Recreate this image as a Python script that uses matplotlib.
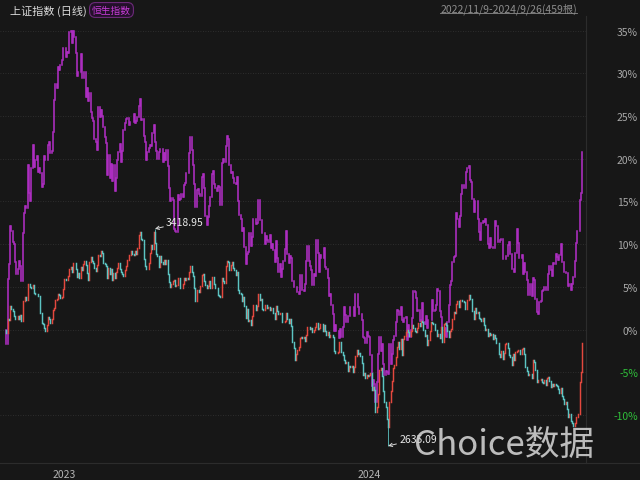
import numpy as np
import matplotlib.pyplot as plt
from matplotlib.lines import Line2D

plt.rcParams['font.family'] = ['Noto Sans CJK SC', 'DejaVu Sans']

# 上证指数, daily close in % vs first bar (2022/11/9 .. 2024/9/26), one line per month
sh_2022 = [0.0, -0.4, 1.3, 1.1, 2.8, 2.4, 2.2, 1.6, 1.2, 1.3, 1.6, 1.3, 1.7, 1.0, 3.3, 3.4,
           3.8, 3.5, 5.3, 5.4, 5.0, 4.9, 5.2, 4.3, 4.2, 4.2, 3.9, 3.9, 1.9, 0.8, 0.7, 0.2, -0.1, 0.6, 1.5, 1.3, 0.8, 1.3]
sh_2023 = [2.3, 2.5, 3.5, 3.6, 4.2, 4.0, 3.7, 3.8, 4.8, 5.9, 5.8, 5.8, 6.3, 7.1, 7.3, 6.8,
           7.8, 7.8, 7.1, 6.2, 6.6, 6.0, 7.3, 7.0, 7.7, 8.0, 7.6, 6.6, 5.8, 7.9, 8.5, 8.0, 7.8, 7.2, 6.9, 7.6,
           8.7, 8.6, 9.2, 9.0, 7.8, 7.7, 7.5, 6.0, 7.2, 6.5, 7.1, 5.8, 6.6, 6.1, 6.8, 7.2, 7.8, 7.1, 6.7, 6.5, 6.3, 7.0, 7.4,
           8.1, 8.7, 8.7, 9.2, 8.8, 8.7, 9.2, 8.9, 9.5, 11.1, 11.4, 10.6, 10.5, 8.3, 7.4, 7.1, 7.1, 7.8, 9.0,
           9.9, 9.4, 11.4, 10.1, 8.9, 8.6, 7.3, 8.6, 7.9, 7.7, 8.2, 7.7, 8.2, 6.5, 5.6, 5.0, 5.4, 5.7, 5.8, 5.1,
           5.2, 6.0, 6.0, 4.9, 4.9, 5.4, 6.0, 5.8, 6.1, 5.9, 6.7, 7.4, 6.8, 6.3, 4.9, 3.4, 4.6, 4.6, 4.4, 5.1,
           6.4, 6.5, 5.7, 5.2, 4.9, 5.1, 5.7, 4.9, 6.2, 6.2, 5.3, 4.9, 4.9, 4.0, 3.9, 3.8, 6.0, 5.7, 5.5, 7.4, 8.0,
           7.9, 7.0, 7.6, 7.9, 7.2, 7.0, 6.4, 6.8, 4.6, 4.3, 4.2, 3.3, 3.8, 2.8, 1.4, 2.4, 1.0, 1.1, 0.5, 1.6, 2.9, 2.9, 2.3,
           2.8, 4.2, 3.5, 3.6, 2.4, 2.3, 2.9, 2.9, 2.5, 2.6, 2.3, 2.5, 2.5, 2.0, 1.2, 2.8, 2.2, 1.8, 1.9, 2.0,
           0.9, 0.9, 1.0, 1.9, 1.3, 0.8, 1.2, 0.4, -1.4, -2.1, -3.6, -2.8, -2.4, -2.0, -1.0, -0.9, -1.0,
           -0.8, -1.3, -0.6, 0.3, 0.3, 0.1, 0.2, -0.3, 0.0, 0.3, 0.8, 0.1, 0.2, 0.7, 0.7, -0.2, 0.5, -0.2, -0.6, -0.3, -0.9, -0.6,
           -0.6, -0.9, -2.5, -2.7, -2.7, -2.6, -1.5, -1.5, -2.6, -3.0, -3.5, -3.9, -3.8, -4.8, -4.3, -4.4, -4.2, -4.9, -4.4, -3.1, -2.4]
sh_2024 = [-2.8, -2.7, -3.1, -3.9, -5.3, -5.1, -5.6, -5.3, -5.4, -5.3, -5.1, -7.1, -6.7, -7.1, -9.6, -9.1, -7.5, -4.7, -4.5, -5.4, -7.2, -8.5,
           -9.1, -10.4, -11.4, -8.5, -7.2, -6.0, -4.5, -4.1, -3.2, -2.0, -1.4, -2.3, -1.1, -3.0, -1.1,
           -0.7, -0.3, 0.0, -0.3, -0.7, -0.1, 0.6, 0.2, -0.1, -0.3, 0.2, 0.8, 0.4, 1.0, 0.9, 0.0, -0.7, -0.6, -1.8, -1.2, -0.2,
           0.9, 0.8, 0.7, 0.0, 0.0, -0.7, -0.5, -1.0, 0.3, -1.4, 0.7, 0.8, 0.5, -0.1, -0.9, -0.1, 0.1, 1.3, 2.1, 1.9,
           3.0, 3.3, 2.6, 3.5, 3.5, 3.3, 3.2, 2.4, 2.4, 3.5, 4.0, 3.6, 3.6, 2.2, 1.3, 2.5, 2.0, 2.1, 1.4, 1.3,
           1.0, 1.4, 0.6, 0.0, 0.1, -0.7, -0.4, -0.6, -0.5, -1.1, -0.6, -1.0, -1.6, -1.6, -2.8, -3.2, -2.5, -3.4, -2.7,
           -1.7, -1.6, -2.2, -3.0, -3.2, -4.1, -2.9, -3.6, -2.6, -2.5, -2.4, -2.4, -2.8, -2.3, -2.2, -2.8, -4.4, -4.8, -5.3, -5.2, -5.2, -5.6, -3.6,
           -3.8, -4.7, -6.1, -5.9, -5.9, -5.8, -6.1, -6.2, -5.9, -6.5, -5.6, -5.5, -6.0, -6.7, -6.3, -6.6, -6.3, -6.5, -6.6, -6.9, -7.4, -6.8,
           -7.8, -8.1, -8.7, -8.5, -9.3, -10.2, -9.9, -10.7, -10.9, -11.3, -10.9, -10.2, -10.2, -9.9, -6.1, -5.0, -1.6]

# 恒生指数 on the same trading days, % vs first bar
hs_2022 = [0.0, -1.7, 5.9, 7.7, 12.1, 11.6, 10.3, 10.0, 7.9, 6.5, 7.1, 8.0, 7.4, 5.7, 11.3, 13.7,
           14.5, 14.2, 19.3, 16.0, 15.0, 18.9, 21.6, 19.0, 19.8, 20.3, 18.4, 18.9, 18.3, 16.7, 17.1, 20.3, 19.8, 19.8, 21.6, 21.9, 20.7, 20.9]
hs_2023 = [23.1, 26.9, 28.7, 28.3, 30.7, 30.4, 31.0, 31.5, 32.9, 32.9, 31.9, 32.5, 32.4, 34.8, 34.9, 33.5,
           34.9, 34.2, 32.4, 29.7, 30.2, 30.1, 32.2, 29.5, 29.4, 30.2, 27.2, 28.3, 26.7, 27.7, 25.5, 24.8, 24.4, 22.3, 21.9, 21.0,
           26.0, 24.9, 25.7, 25.0, 23.7, 22.6, 21.8, 18.1, 20.4, 17.7, 19.4, 17.4, 19.3, 16.2, 17.7, 19.8, 20.8, 21.7, 19.6, 20.9, 23.4, 24.2, 24.7,
           24.8, 23.9, 24.3, 24.3, 24.3, 25.2, 24.2, 24.4, 24.9, 26.2, 27.0, 24.5, 24.7, 22.7, 22.0, 19.9, 20.8, 21.3, 21.6,
           21.5, 23.0, 23.9, 22.0, 20.9, 20.0, 20.8, 21.1, 21.1, 19.6, 20.7, 19.8, 21.0, 19.1, 16.6, 15.0, 15.4, 15.2, 11.8, 11.5,
           11.4, 15.8, 15.2, 15.3, 15.9, 15.5, 16.9, 17.2, 18.3, 18.3, 20.7, 22.5, 21.0, 19.3, 17.0, 14.3, 16.4, 16.5, 15.9, 15.6,
           17.9, 18.2, 16.6, 13.3, 12.3, 13.2, 14.5, 15.5, 18.2, 18.6, 17.0, 16.6, 16.2, 16.8, 16.7, 14.6, 19.5, 20.0, 19.6, 21.5, 22.7,
           22.3, 19.3, 18.3, 18.4, 17.8, 17.2, 17.0, 17.9, 15.0, 13.4, 12.9, 11.5, 11.9, 9.7, 7.7, 8.8, 9.1, 11.3, 9.8, 10.8, 13.0, 13.0, 12.4,
           12.5, 15.2, 12.8, 12.8, 11.3, 11.3, 10.0, 11.0, 10.5, 10.3, 11.1, 9.6, 10.0, 9.3, 7.9, 10.4, 8.4, 6.8, 7.7, 6.2,
           7.1, 8.0, 9.4, 11.5, 8.9, 7.8, 8.6, 8.4, 5.7, 5.0, 5.0, 5.0, 4.4, 4.2, 6.4, 6.4, 4.6,
           4.5, 5.3, 8.0, 9.8, 8.0, 7.4, 7.0, 5.2, 6.5, 6.3, 10.5, 9.0, 6.7, 8.7, 8.4, 8.4, 9.5, 7.3, 7.1, 6.1, 3.9, 4.2,
           2.9, 1.8, -0.2, 0.6, -0.1, -0.1, -1.0, 0.1, -0.8, 0.3, 2.7, 1.7, 0.9, 1.6, 1.6, 2.7, 2.7, 2.7, 1.6, 4.2, 4.2]
hs_2024 = [2.6, 1.8, 1.8, 1.1, -0.8, -1.0, -1.6, -0.3, -0.7, -0.9, -3.0, -6.6, -5.9, -6.4, -8.5, -6.1, -2.8, -0.9, -2.5, -1.7, -4.0, -5.3,
           -4.8, -5.0, -5.2, -1.7, -4.0, -2.9, -1.2, -0.7, 0.9, 2.3, 2.2, 1.7, 2.6, 1.1, 0.9,
           1.4, 1.5, -1.2, 0.5, -0.8, 0.0, 1.4, 4.5, 4.4, 3.7, 2.2, 2.3, 1.0, 1.1, 3.1, 0.9, 0.7, 1.6, 0.2, 1.1, 1.1,
           1.1, 3.5, 2.2, 2.3, 2.9, 4.8, 4.5, 2.2, 1.5, -0.7, -0.7, 0.2, -0.8, 0.9, 2.9, 5.2, 5.7, 7.9, 8.5, 8.6,
           13.6, 13.0, 12.0, 13.3, 15.9, 16.9, 16.6, 16.6, 18.4, 18.9, 19.2, 17.5, 17.3, 15.3, 13.8, 15.1, 15.1, 13.0, 11.4, 10.5,
           12.5, 12.7, 12.6, 12.9, 12.3, 10.0, 9.6, 10.7, 9.7, 9.6, 9.5, 12.7, 12.1, 10.2, 10.2, 10.5, 10.6, 8.3, 8.3,
           8.3, 8.6, 9.9, 10.2, 8.8, 7.1, 7.1, 6.8, 9.0, 11.8, 10.1, 8.4, 8.4, 8.7, 6.5, 7.8, 6.8, 5.8, 4.0, 4.1, 5.4, 3.9, 6.0,
           5.8, 3.6, 2.1, 1.8, 3.2, 3.3, 4.5, 4.6, 5.0, 4.6, 4.6, 6.5, 7.4, 7.0, 6.3, 7.8, 7.7, 8.8, 8.5, 8.2, 8.7, 10.0,
           7.9, 7.9, 6.7, 6.6, 6.6, 5.1, 5.4, 4.6, 5.4, 6.2, 8.0, 10.1, 11.6, 11.5, 15.2, 16.0, 20.8]

year_pos = [38, 280]
year_labels = ['2023', '2024']
y_ticks = [-10, -5, 0, 5, 10, 15, 20, 25, 30, 35]

# marked extremes of 上证指数
hi_idx, hi_pct, hi_text = 119, 11.8, '3418.95'
lo_idx, lo_pct, lo_text = 304, -13.6, '2635.09'

BG = '#171717'
RED = '#e4483e'
CYAN = '#5cc4c2'
PURPLE = '#b52fca'

sh = np.array(sh_2022 + sh_2023 + sh_2024)
hs = np.array(hs_2022 + hs_2023 + hs_2024)

fig = plt.figure(figsize=(6.4, 4.81), dpi=100, facecolor=BG)
ax = fig.add_axes([0, 17 / 481, 586 / 640, 447 / 481], facecolor=BG)

# 恒生 bars (previous close -> close)
i = np.arange(len(hs))
hp = np.r_[hs[0], hs[:-1]]
lc = ax.vlines(i, np.minimum(hp, hs), np.maximum(hp, hs), color=PURPLE, lw=1.1)
lc.set_capstyle('projecting')

# 上证 candles
j = np.arange(len(sh))
sp = np.r_[sh[0], sh[:-1]]
up = sh >= sp
for m, c in [(up, RED), (~up, CYAN)]:
    lc = ax.vlines(j[m], np.minimum(sp, sh)[m], np.maximum(sp, sh)[m], color=c, lw=1.05)
    lc.set_capstyle('projecting')
ax.vlines(hi_idx, max(sh[hi_idx], sp[hi_idx]), hi_pct, color=CYAN, lw=0.6)
ax.vlines(lo_idx, min(sh[lo_idx], sp[lo_idx]), lo_pct, color=CYAN, lw=0.6)

for idx, val, txt in [(hi_idx, hi_pct, hi_text), (lo_idx, lo_pct, lo_text)]:
    ax.annotate(txt, xy=(idx, val), xytext=(8, 5), textcoords='offset points',
                color='#e8e8e8', fontsize=7.5, va='center', ha='left',
                arrowprops=dict(arrowstyle='->', color='#d8d8d8', lw=0.7,
                                shrinkA=0, shrinkB=0, mutation_scale=6))

ax.set_xlim(-4, 461.1)
ax.set_ylim(-15.6, 36.7)

ax.set_yticks(y_ticks)
ax.set_yticklabels([f'{v}%' for v in y_ticks])
ax.yaxis.tick_right()
ax.tick_params(axis='y', length=0, pad=37.5, labelsize=7.5)
for lab, v in zip(ax.get_yticklabels(), y_ticks):
    lab.set_horizontalalignment('right')
    lab.set_color('#2fbf3a' if v < 0 else '#a8a8a8')
ax.grid(axis='y', color='#363636', lw=0.6, linestyle=(0, (1, 2)))
ax.set_axisbelow(True)

ax.set_xticks(year_pos)
ax.set_xticklabels(year_labels)
ax.tick_params(axis='x', length=0, pad=4, labelsize=7.5, labelcolor='#b4b4b4')
for lab in ax.get_xticklabels():
    lab.set_horizontalalignment('left')

for s in ['left', 'top', 'bottom']:
    ax.spines[s].set_visible(False)
ax.spines['right'].set_color('#2c2c2c')
fig.add_artist(Line2D([0, 1], [17 / 481, 17 / 481], color='#2c2c2c', lw=0.8))

fig.text(10 / 640, 1 - 11 / 481, '上证指数 (日线)', fontsize=8, color='#dcdcdc', va='center')
fig.text(92 / 640, 1 - 11 / 481, '恒生指数', fontsize=7, color='#c83cd8', va='center',
         bbox=dict(boxstyle='round,pad=0.25,rounding_size=0.6', fc='#23102a', ec='#6d2a7a', lw=0.8))
date_t = fig.text(577 / 640, 1 - 9 / 481, '2022/11/9-2024/9/26(459根)', fontsize=7.5,
                  color='#8c8c8c', va='center', ha='right')

fig.text(414 / 640, 1 - 446 / 481, 'Choice数据', fontsize=25, color='#cfcfcf',
         alpha=0.9, va='center', ha='left')

fig.canvas.draw()
bb = date_t.get_window_extent().transformed(fig.transFigure.inverted())
fig.add_artist(Line2D([bb.x0, bb.x1], [bb.y0 + 0.002, bb.y0 + 0.002], color='#8c8c8c', lw=0.6))

fig.savefig('out.png', dpi=100, facecolor=BG)
